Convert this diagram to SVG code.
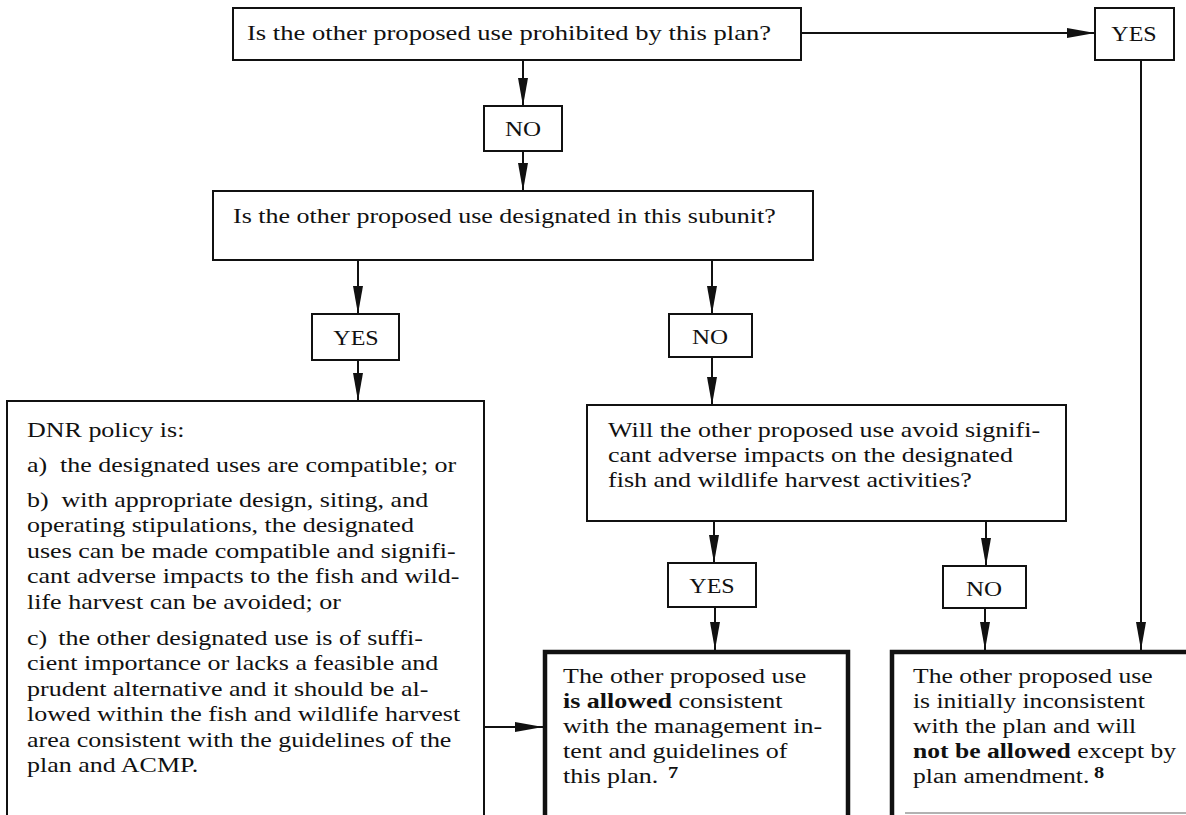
<svg xmlns="http://www.w3.org/2000/svg" width="1186" height="815" viewBox="0 0 1186 815">
<style>
  .box { fill: #fff; stroke: #111; stroke-width: 2; }
  .thick { fill: #fff; stroke: #111; stroke-width: 4.5; }
  .t { font-family: "Liberation Serif", "Times New Roman", serif; font-size: 20px; fill: #111; }
  .lbl { font-family: "Liberation Serif", "Times New Roman", serif; font-size: 20px; fill: #111; text-anchor: middle; }
  .b { font-weight: bold; }
  .sup { font-family: "Liberation Serif", "Times New Roman", serif; font-size: 17px; font-weight: bold; fill: #111; }
  .conn line { stroke: #111; stroke-width: 2; marker-end: url(#ah); }
</style>
<defs>
  <marker id="ah" markerUnits="userSpaceOnUse" markerWidth="28" markerHeight="10" refX="28" refY="5" orient="auto">
    <path d="M0,0 L28,5 L0,10 z" fill="#111"/>
  </marker>
</defs>
<rect width="1186" height="815" fill="#fff"/>

<g id="connectors" class="conn">
  <line x1="523" y1="60" x2="523" y2="106"/>
  <line x1="523" y1="151" x2="523" y2="191"/>
  <line x1="358" y1="260" x2="358" y2="314"/>
  <line x1="358" y1="360" x2="358" y2="401"/>
  <line x1="712" y1="260" x2="712" y2="314"/>
  <line x1="712" y1="357" x2="712" y2="405"/>
  <line x1="714" y1="521" x2="714" y2="563"/>
  <line x1="715" y1="607" x2="715" y2="650"/>
  <line x1="986" y1="521" x2="986" y2="566"/>
  <line x1="985" y1="608" x2="985" y2="650"/>
  <line x1="1141" y1="60" x2="1141" y2="650"/>
  <line x1="801" y1="33" x2="1095" y2="33"/>
  <line x1="484" y1="727" x2="543" y2="727"/>
</g>

<g id="q-prohibited">
  <rect class="box" x="233" y="8" width="568" height="52"/>
  <text class="t" transform="matrix(1.33 0 0 1 247 0)" x="0" y="40">Is the other proposed use prohibited by this plan?</text>
</g>

<g id="yes-prohibited">
  <rect class="box" x="1095" y="8" width="79" height="52"/>
  <text class="lbl" transform="matrix(1.2 0 0 1 1134 0)" x="0" y="41">YES</text>
</g>

<g id="no-prohibited">
  <rect class="box" x="484" y="106" width="78" height="45"/>
  <text class="lbl" transform="matrix(1.25 0 0 1 523 0)" x="0" y="136">NO</text>
</g>

<g id="q-designated">
  <rect class="box" x="213" y="191" width="600" height="69"/>
  <text class="t" transform="matrix(1.3 0 0 1 233 0)" x="0" y="223">Is the other proposed use designated in this subunit?</text>
</g>

<g id="yes-designated">
  <rect class="box" x="312" y="314" width="87" height="46"/>
  <text class="lbl" transform="matrix(1.2 0 0 1 356 0)" x="0" y="345">YES</text>
</g>

<g id="no-designated">
  <rect class="box" x="669" y="314" width="83" height="43"/>
  <text class="lbl" transform="matrix(1.25 0 0 1 710 0)" x="0" y="344">NO</text>
</g>

<g id="dnr-policy">
  <path class="box" d="M7,830 V401 H484 V830"/>
  <text class="t" transform="matrix(1.3 0 0 1 27 0)">
    <tspan x="0" y="437">DNR policy is:</tspan>
    <tspan x="0" y="472">a)</tspan><tspan x="25.4" y="472">the designated uses are compatible; or</tspan>
    <tspan x="0" y="507">b)</tspan><tspan x="26.5" y="507">with appropriate design, siting, and</tspan>
    <tspan x="0" y="532.5">operating stipulations, the designated</tspan>
    <tspan x="0" y="558">uses can be made compatible and signifi-</tspan>
    <tspan x="0" y="583.5">cant adverse impacts to the fish and wild-</tspan>
    <tspan x="0" y="609">life harvest can be avoided; or</tspan>
    <tspan x="0" y="645">c)</tspan><tspan x="24" y="645">the other designated use is of suffi-</tspan>
    <tspan x="0" y="670.5">cient importance or lacks a feasible and</tspan>
    <tspan x="0" y="696">prudent alternative and it should be al-</tspan>
    <tspan x="0" y="721.5">lowed within the fish and wildlife harvest</tspan>
    <tspan x="0" y="747">area consistent with the guidelines of the</tspan>
    <tspan x="0" y="772.5">plan and ACMP.</tspan>
  </text>
</g>

<g id="q-avoid">
  <rect class="box" x="587" y="405" width="479" height="116"/>
  <text class="t" transform="matrix(1.3 0 0 1 608 0)">
    <tspan x="0" y="437">Will the other proposed use avoid signifi-</tspan>
    <tspan x="0" y="462">cant adverse impacts on the designated</tspan>
    <tspan x="0" y="487">fish and wildlife harvest activities?</tspan>
  </text>
</g>

<g id="yes-avoid">
  <rect class="box" x="668" y="563" width="88" height="44"/>
  <text class="lbl" transform="matrix(1.2 0 0 1 712 0)" x="0" y="593">YES</text>
</g>

<g id="no-avoid">
  <rect class="box" x="943" y="566" width="83" height="42"/>
  <text class="lbl" transform="matrix(1.25 0 0 1 984 0)" x="0" y="596">NO</text>
</g>

<g id="allowed">
  <path class="thick" d="M545,830 V652 H848 V830"/>
  <text class="t" transform="matrix(1.3 0 0 1 563 0)">
    <tspan x="0" y="683">The other proposed use</tspan>
    <tspan x="0" y="708"><tspan class="b">is allowed</tspan> consistent</tspan>
    <tspan x="0" y="733">with the management in-</tspan>
    <tspan x="0" y="758">tent and guidelines of</tspan>
    <tspan x="0" y="783">this plan.</tspan>
  </text>
  <text class="sup" transform="matrix(1.2 0 0 1 668 0)" x="0" y="778">7</text>
</g>

<g id="not-allowed">
  <path class="thick" d="M892,830 V652 H1190"/>
  <line x1="905" y1="813" x2="1186" y2="813" stroke="#999" stroke-width="1.5"/>
  <text class="t" transform="matrix(1.28 0 0 1 913 0)">
    <tspan x="0" y="683">The other proposed use</tspan>
    <tspan x="0" y="708">is initially inconsistent</tspan>
    <tspan x="0" y="733">with the plan and will</tspan>
    <tspan x="0" y="758"><tspan class="b">not be allowed</tspan> except by</tspan>
    <tspan x="0" y="783">plan amendment.</tspan>
  </text>
  <text class="sup" transform="matrix(1.2 0 0 1 1094 0)" x="0" y="778">8</text>
</g>
</svg>
